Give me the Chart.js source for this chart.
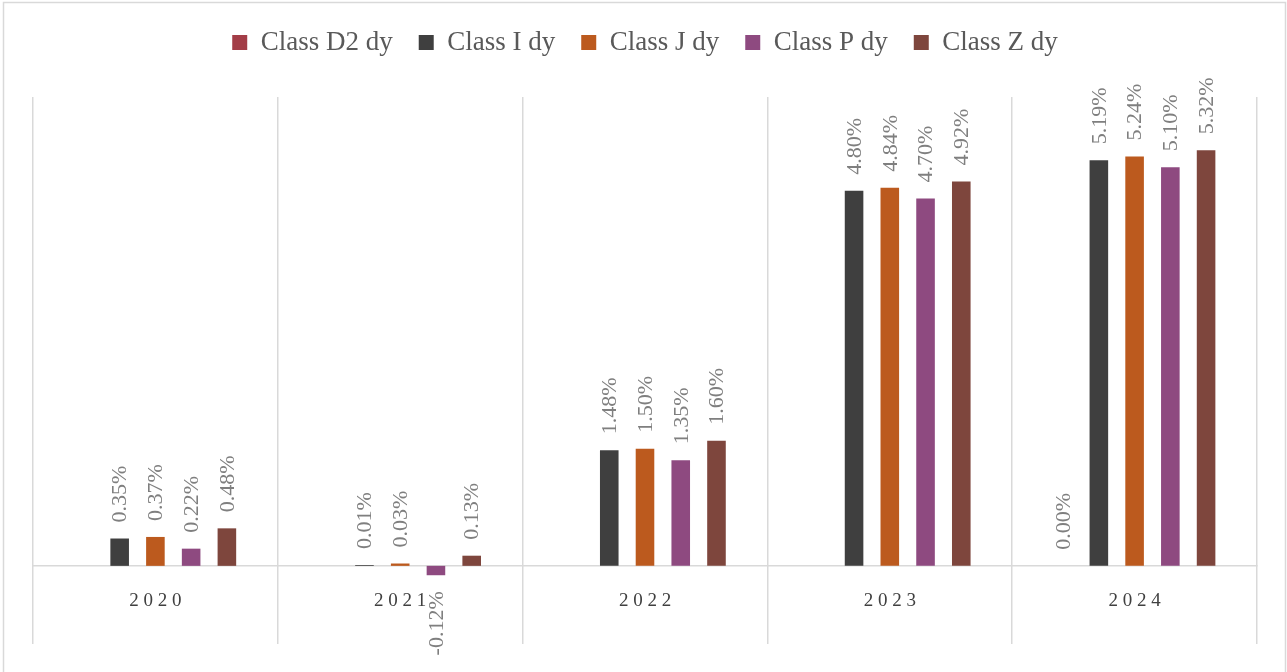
<!DOCTYPE html>
<html>
<head>
<meta charset="utf-8">
<script src="https://cdn.jsdelivr.net/npm/chart.js@4.4.1/dist/chart.umd.min.js"></script>
<style>
	html, body { margin: 0; padding: 0; background: #fff; }
	#wrap { width: 1287px; height: 672px; position: relative; }
</style>
</head>
<body>
<div id="wrap"><canvas id="chart" width="1287" height="672"></canvas></div>
<script>
const years = ['2020', '2021', '2022', '2023', '2024'];
const class_d2 = [null, null, null, null, 0.00];
const class_i = [0.35, 0.01, 1.48, 4.80, 5.19];
const class_j = [0.37, 0.03, 1.50, 4.84, 5.24];
const class_p = [0.22, -0.12, 1.35, 4.70, 5.10];
const class_z = [0.48, 0.13, 1.60, 4.92, 5.32];

const serif = "'Liberation Serif', 'DejaVu Serif', serif";

// push the plot down under the legend
const legend_gap = {
	id: 'legend_gap',
	beforeInit(chart) {
		const fit = chart.legend.fit;
		chart.legend.fit = function () {
			fit.bind(chart.legend)();
			this.height += 31;
		};
	}
};

// rotated value labels, like excel's "outside end"
const bar_labels = {
	id: 'bar_labels',
	afterDatasetsDraw(chart) {
		const ctx = chart.ctx;
		ctx.save();
		ctx.font = '22px ' + serif;
		ctx.fillStyle = '#7f7f7f';
		ctx.textBaseline = 'middle';
		chart.data.datasets.forEach((ds, i) => {
			chart.getDatasetMeta(i).data.forEach((bar, j) => {
				const v = ds.data[j];
				if (v === null) return;
				const neg = v < 0;
				ctx.save();
				ctx.translate(bar.x, neg ? bar.y + 16 : bar.y - 16);
				ctx.rotate(-Math.PI / 2);
				ctx.textAlign = neg ? 'right' : 'left';
				ctx.fillText(v.toFixed(2) + '%', 0, 1);
				ctx.restore();
			});
		});
		ctx.restore();
	}
};

const frame = {
	id: 'frame',
	afterDraw(chart) {
		const ctx = chart.ctx;
		ctx.save();
		ctx.strokeStyle = '#d9d9d9';
		ctx.lineWidth = 1.5;
		ctx.strokeRect(3.5, 2.5, 1282, 700);
		ctx.restore();
	}
};

const config = {
	type: 'bar',
	data: {
		labels: years,
		datasets: [
			{ label: 'Class D2 dy', data: class_d2, backgroundColor: '#A33D47' },
			{ label: 'Class I dy', data: class_i, backgroundColor: '#3F3F3F' },
			{ label: 'Class J dy', data: class_j, backgroundColor: '#BC5A1E' },
			{ label: 'Class P dy', data: class_p, backgroundColor: '#8E4A80' },
			{ label: 'Class Z dy', data: class_z, backgroundColor: '#7E463D' }
		]
	},
	options: {
		responsive: false,
		animation: false,
		categoryPercentage: 0.73,
		barPercentage: 0.52,
		layout: { padding: { top: 3, left: 33, right: 30, bottom: 28 } },
		plugins: {
			legend: {
				position: 'top',
				labels: {
					font: { family: serif, size: 27 },
					color: '#595959',
					boxWidth: 15,
					boxHeight: 15,
					padding: 26
				}
			},
			tooltip: { enabled: false }
		},
		scales: {
			x: {
				position: { y: 0 },
				grid: { color: '#d9d9d9', lineWidth: 1.5, offset: true, drawTicks: false },
				border: { display: true, color: '#d9d9d9', width: 1.5 },
				ticks: {
					font: { family: serif, size: 19 },
					color: '#404040',
					padding: 24,
					callback: function (v) {
						return this.getLabelForValue(v).split('').join(' ');
					}
				}
			},
			y: {
				display: false,
				min: -1,
				max: 6
			}
		}
	},
	plugins: [legend_gap, bar_labels, frame]
};

new Chart(document.getElementById('chart'), config);
</script>
</body>
</html>
